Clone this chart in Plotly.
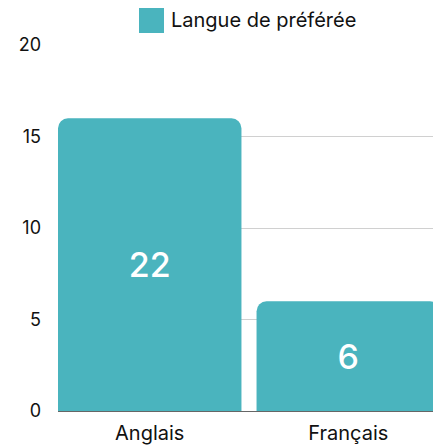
import plotly.graph_objects as go

categories = ["Anglais", "Français"]
bar_heights = [16, 6]
bar_labels = ["22", "6"]
series_name = "Langue de préférée"
y_ticks = [0, 5, 10, 15, 20]

color = "#4ab4be"
text_color = "#111111"
gap = 0.076

fig = go.Figure()
fig.add_trace(go.Bar(
    x=categories,
    y=bar_heights,
    name=series_name,
    text=bar_labels,
    textposition="inside",
    insidetextanchor="middle",
    textfont=dict(family="Inter", size=34, color="white", weight=500),
    marker=dict(color=color, line=dict(width=0), cornerradius=10),
    showlegend=False,
))

# custom legend (large swatch + label)
fig.add_shape(
    type="rect", xref="paper", yref="paper",
    xsizemode="pixel", ysizemode="pixel",
    xanchor=0.5, yanchor=1,
    x0=-110, x1=-85, y0=12, y1=37,
    fillcolor=color, line=dict(width=0),
)
fig.add_annotation(
    xref="paper", yref="paper", x=0.5, y=1,
    xshift=-80, yshift=25, xanchor="left", yanchor="middle",
    text=series_name, showarrow=False,
    font=dict(family="Inter", size=20, color=text_color),
)

fig.update_layout(
    width=433, height=437,
    margin=dict(l=50, r=1, t=37, b=34),
    paper_bgcolor="white",
    plot_bgcolor="white",
    bargap=gap,
    font=dict(family="Inter", size=18, color=text_color),
    showlegend=False,
    xaxis=dict(
        range=[-0.5 + gap / 2, 1.5 - gap / 2],
        showgrid=False,
        showline=False,
        ticks="",
        ticklabelstandoff=8,
        tickfont=dict(size=20, color=text_color),
        zeroline=False,
        automargin=False,
    ),
    yaxis=dict(
        range=[0, 20],
        tickvals=y_ticks,
        showgrid=True,
        gridcolor="#d0d0d0",
        gridwidth=1,
        zeroline=True,
        zerolinecolor="#666666",
        zerolinewidth=1,
        showline=False,
        ticks="",
        ticklabelstandoff=16,
        tickfont=dict(size=18, color=text_color),
        automargin=False,
    ),
)

fig.write_html("out.html")
